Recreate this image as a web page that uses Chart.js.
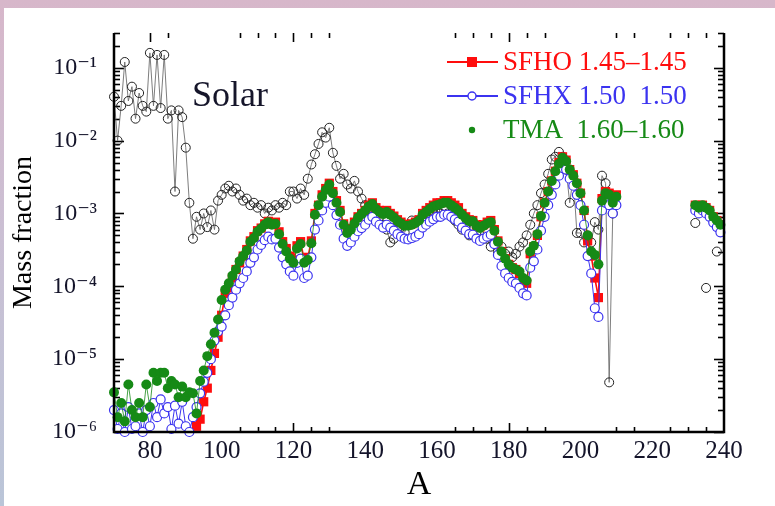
<!DOCTYPE html>
<html><head><meta charset="utf-8">
<script src="https://cdn.jsdelivr.net/npm/chart.js@4.4.0/dist/chart.umd.min.js"></script>
<style>
html,body{margin:0;padding:0;}
body{width:775px;height:506px;position:relative;overflow:hidden;background:linear-gradient(180deg,#d7b7ca 0%,#cbbfd3 45%,#bac5d8 100%);}
#panel{position:absolute;left:4px;top:8px;width:771px;height:498px;background:#fff;}
#wrap{position:absolute;left:0;top:0;width:775px;height:506px;}
</style></head><body>
<div id="panel"></div>
<div id="wrap"><canvas id="c" width="775" height="506"></canvas></div>
<script>
// ---------- data ----------
const A_MODELS = [
 70,71,72,73,74,75,76,77,78,79,
 80,81,82,83,84,85,86,87,88,89,
 90,91,92,93,94,95,96,97,98,99,
 100,101,102,103,104,105,106,107,108,109,
 110,111,112,113,114,115,116,117,118,119,
 120,121,122,123,124,125,126,127,128,129,
 130,131,132,133,134,135,136,137,138,139,
 140,141,142,143,144,145,146,147,148,149,
 150,151,152,153,154,155,156,157,158,159,
 160,161,162,163,164,165,166,167,168,169,
 170,171,172,173,174,175,176,177,178,179,
 180,181,182,183,184,185,186,187,188,189,
 190,191,192,193,194,195,196,197,198,199,
 200,201,202,203,204,205,206,207,208,209,
 210,211,
 232,233,234,235,236,237,238,239
];
const SFHO = [
 null,null,null,null,null,null,null,null,null,null,
 null,null,null,null,null,null,null,null,null,null,
 null,null,null,1.2e-6,1.5e-6,2.6e-6,4e-6,7e-6,1.2e-5,2e-5,
 4e-5,8e-5,9.5e-5,1.3e-4,1.7e-4,2.1e-4,2.6e-4,3.2e-4,4.2e-4,4.8e-4,
 5.8e-4,6.3e-4,7.2e-4,7.8e-4,7.2e-4,7.6e-4,5.6e-4,4.1e-4,3.3e-4,2.6e-4,
 2.3e-4,3.6e-4,4.1e-4,2.3e-4,2.5e-4,4.2e-4,1.0e-3,1.3e-3,1.8e-3,2.2e-3,
 2.6e-3,2.0e-3,1.5e-3,1.1e-3,7.2e-4,5.6e-4,6.2e-4,7.6e-4,9.0e-4,1.0e-3,
 1.1e-3,1.3e-3,1.4e-3,1.2e-3,1.1e-3,1.0e-3,1.1e-3,1.0e-3,9.2e-4,8.2e-4,
 7.6e-4,7.1e-4,7.0e-4,7.2e-4,7.6e-4,8.2e-4,1.0e-3,1.1e-3,1.2e-3,1.3e-3,
 1.4e-3,1.4e-3,1.5e-3,1.5e-3,1.4e-3,1.3e-3,1.2e-3,1.0e-3,9.0e-4,8.2e-4,
 8.0e-4,7.0e-4,6.5e-4,7.0e-4,7.6e-4,8.0e-4,6.0e-4,4.2e-4,3.0e-4,2.4e-4,
 2.0e-4,1.8e-4,1.7e-4,1.5e-4,1.2e-4,1.1e-4,2.8e-4,3.5e-4,5.0e-4,9.0e-4,
 1.4e-3,2.0e-3,2.8e-3,3.8e-3,5.0e-3,6.0e-3,5.4e-3,4.0e-3,3.4e-3,2.6e-3,
 1.9e-3,1.1e-3,4.2e-4,2.6e-4,1.3e-4,7.0e-5,1.6e-3,2.0e-3,1.9e-3,1.4e-3,
 1.8e-3,null,
 1.3e-3,1.2e-3,1.3e-3,1.2e-3,1.1e-3,9e-4,8e-4,7e-4
];
const SFHX = [
 2e-6,1.1e-6,1.8e-6,1.0e-6,2.2e-6,1.1e-6,1.2e-6,1.8e-6,1.0e-6,2.0e-6,
 1.2e-6,2.5e-6,1.6e-6,2.8e-6,1.8e-6,2.2e-6,1.1e-6,2.3e-6,1.3e-6,2.6e-6,
 1.2e-6,1.0e-6,1.6e-6,2.2e-6,3.4e-6,4.9e-6,6.5e-6,1.0e-5,1.8e-5,2.4e-5,
 2.8e-5,4e-5,5.5e-5,7e-5,9e-5,1.1e-4,1.3e-4,1.6e-4,2.1e-4,2.5e-4,
 3.2e-4,3.7e-4,4.3e-4,4.8e-4,4.4e-4,4.5e-4,3.4e-4,2.5e-4,2e-4,1.6e-4,
 1.4e-4,2.1e-4,2.4e-4,1.3e-4,1.4e-4,2.5e-4,6e-4,8e-4,1.1e-3,1.4e-3,
 1.7e-3,1.3e-3,9.5e-4,7e-4,4.5e-4,3.6e-4,4e-4,4.8e-4,5.7e-4,6.3e-4,
 7e-4,8.2e-4,9e-4,7.7e-4,7e-4,6.4e-4,7e-4,6.4e-4,5.8e-4,5.2e-4,
 4.8e-4,4.5e-4,4.4e-4,4.6e-4,4.8e-4,5.2e-4,6.4e-4,7e-4,7.7e-4,8.3e-4,
 9e-4,9e-4,9.6e-4,9.6e-4,9e-4,8.3e-4,7.7e-4,6.4e-4,5.8e-4,5.2e-4,
 5.1e-4,4.5e-4,4.2e-4,4.5e-4,4.8e-4,5.1e-4,3.8e-4,2.7e-4,1.9e-4,1.5e-4,
 1.3e-4,1.15e-4,1.1e-4,9.5e-5,8e-5,7.5e-5,1.8e-4,2.2e-4,3.2e-4,5.8e-4,
 9e-4,1.3e-3,1.8e-3,2.5e-3,3.3e-3,4.2e-3,4e-3,3e-3,2.4e-3,1.8e-3,
 1.3e-3,7e-4,2.6e-4,1.5e-4,5e-5,3.8e-5,1.1e-3,1.4e-3,1.3e-3,1e-3,
 1.3e-3,null,
 1.1e-3,1.0e-3,1.1e-3,1.0e-3,9e-4,7.5e-4,6.5e-4,5.5e-4
];
const TMA = [
 3.5e-6,1.6e-6,2.5e-6,1.4e-6,4.5e-6,2.0e-6,1.6e-6,2.5e-6,1.6e-6,4.5e-6,
 2.2e-6,6.5e-6,5e-6,6.5e-6,6.5e-6,4e-6,5e-6,4.5e-6,3e-6,4.2e-6,
 3e-6,3.5e-6,3.4e-6,1.8e-6,5e-6,7e-6,1.1e-5,1.6e-5,2.3e-5,3.5e-5,
 6.5e-5,9e-5,1.1e-4,1.4e-4,1.7e-4,2.2e-4,2.6e-4,3.1e-4,4.1e-4,4.6e-4,
 5.6e-4,6.2e-4,7e-4,7.6e-4,7e-4,7.2e-4,5.2e-4,3.8e-4,3e-4,2.4e-4,
 2.1e-4,3.3e-4,3.8e-4,2.1e-4,2.3e-4,3.9e-4,9.6e-4,1.3e-3,1.7e-3,2.1e-3,
 2.5e-3,1.9e-3,1.4e-3,1.05e-3,7e-4,5.4e-4,6e-4,7.3e-4,8.7e-4,9.8e-4,
 1.1e-3,1.25e-3,1.35e-3,1.15e-3,1.05e-3,9.8e-4,1.05e-3,9.6e-4,8.8e-4,7.9e-4,
 7.3e-4,6.8e-4,6.8e-4,7e-4,7.4e-4,8e-4,9.6e-4,1.05e-3,1.15e-3,1.25e-3,
 1.3e-3,1.35e-3,1.4e-3,1.4e-3,1.3e-3,1.2e-3,1.1e-3,9.6e-4,8.6e-4,7.8e-4,
 7.8e-4,6.8e-4,6.3e-4,6.8e-4,7.3e-4,7.6e-4,5.8e-4,4.1e-4,3e-4,2.4e-4,
 2e-4,1.8e-4,1.7e-4,1.6e-4,1.3e-4,1.2e-4,3e-4,3.6e-4,5.2e-4,9.2e-4,
 1.4e-3,2e-3,2.8e-3,3.8e-3,4.8e-3,5.8e-3,5.2e-3,4e-3,3.3e-3,2.6e-3,
 1.9e-3,1.1e-3,5e-4,3e-4,2.7e-4,2e-4,1.5e-3,1.9e-3,1.8e-3,1.4e-3,
 1.7e-3,null,
 1.3e-3,1.2e-3,1.3e-3,1.2e-3,1.1e-3,9e-4,8e-4,7e-4
];
const A_SOLAR = [
 70,71,72,73,74,75,76,77,78,79,
 80,81,82,83,84,85,86,87,88,89,
 90,91,92,93,94,95,96,97,98,99,
 100,101,102,103,104,105,106,107,108,109,
 110,111,112,113,114,115,116,117,118,119,
 120,121,122,123,124,125,126,127,128,129,
 130,131,132,133,134,135,136,137,138,139,
 140,141,142,143,144,145,146,147,148,149,
 150,151,152,153,154,155,156,157,158,159,
 160,161,162,163,164,165,166,167,168,169,
 170,171,172,173,174,175,176,177,178,179,
 180,181,182,183,184,185,186,187,188,189,
 190,191,192,193,194,195,196,197,198,199,
 200,201,202,203,204,205,206,207,208,209,
 210,232,233,235,236,238
];
const SOLAR = [
 0.04,0.01,0.03,0.12,0.035,0.055,0.02,0.045,0.03,0.025,
 0.16,0.03,0.15,0.028,0.15,0.02,0.026,0.002,0.026,0.021,
 0.008,0.0014,0.00045,0.0009,0.0006,0.001,0.00065,0.0011,0.0006,0.0015,
 1.8e-3,2.2e-3,2.4e-3,2.0e-3,2.2e-3,1.8e-3,1.5e-3,1.6e-3,1.3e-3,1.4e-3,
 1.2e-3,1.3e-3,1.0e-3,1.2e-3,1.1e-3,1.3e-3,1.2e-3,1.4e-3,1.3e-3,2.0e-3,
 2.0e-3,1.6e-3,2.2e-3,1.8e-3,3.0e-3,4.7e-3,6.5e-3,9e-3,1.3e-2,1.1e-2,
 1.5e-2,6.8e-3,4.5e-3,3.0e-3,3.5e-3,2.5e-3,2.2e-3,2.8e-3,2.0e-3,1.6e-3,
 1.3e-3,1.1e-3,1.2e-3,1.0e-3,9e-4,7e-4,6e-4,4e-4,4.5e-4,6e-4,
 6.5e-4,5.5e-4,7e-4,8e-4,7.5e-4,8e-4,9e-4,1e-3,1.1e-3,1e-3,
 1.1e-3,1e-3,1.1e-3,1e-3,9e-4,8e-4,7e-4,6e-4,6.5e-4,5e-4,
 6e-4,5.5e-4,5e-4,4.5e-4,4.5e-4,3.5e-4,4e-4,3e-4,3.5e-4,2.8e-4,
 3e-4,2.5e-4,2.8e-4,3.5e-4,4e-4,5e-4,7e-4,1e-3,1.3e-3,1.9e-3,
 2.5e-3,3.5e-3,5.5e-3,6e-3,7e-3,6e-3,4e-3,1.4e-3,3.2e-3,5.4e-4,
 5.4e-4,4e-4,5e-4,4e-4,7.6e-4,6e-4,3.3e-3,2.6e-3,4.8e-6,1e-3,
 null,7.4e-4,null,9.5e-5,null,3e-4
];
const X_TICK_VALUES = [80,100,120,140,160,180,200,220,240];
const X_TICK_MARKS = [80,85,105,110,115,120,125,130,165,170,175,180,185,190,210,215,225,230,235];
const Y_TICK_VALUES = [1e-6,1e-5,1e-4,1e-3,1e-2,1e-1];
const Y_TICK_LABELS = ['10\u207B\u2076','10\u207B\u2075','10\u207B\u2074','10\u207B\u00B3','10\u207B\u00B2','10\u207B\u00B9'];
const LEGEND_LABELS = ['SFHO 1.45\u20131.45','SFHX 1.50  1.50','TMA  1.60\u20131.60'];
const ANNOTATION = 'Solar';

// ---------- chart ----------
const SERIF = "'Liberation Serif','Times New Roman','DejaVu Serif',serif";
const COL = {red:'#ff0d0d', blue:'#3b33f0', green:'#168a16', black:'#1a1a1a'};
const pts = (xs, ys) => xs.map((a,i)=>({x:a, y:ys[i]}));
const clipAll = {left:10,right:10,top:10,bottom:10};

const decoPlugin = {
  id:'deco',
  beforeDatasetsDraw(chart){
    const {ctx, chartArea:{left,right,top,bottom}, scales:{x,y}} = chart;
    ctx.save();
    ctx.strokeStyle = '#000'; ctx.lineWidth = 1.6;
    const seg=(x1,y1,x2,y2)=>{ctx.beginPath();ctx.moveTo(x1,y1);ctx.lineTo(x2,y2);ctx.stroke();};
    for (let e=-6;e<=-1;e++){
      for (let m=1;m<=9;m++){
        const v = m*Math.pow(10,e);
        if (v < y.min*0.999 || v > y.max*1.001) continue;
        const py = Math.round(y.getPixelForValue(v))+0.5;
        const len = m===1?10:6;
        seg(left,py,left+len,py); seg(right,py,right-len,py);
      }
    }
    X_TICK_MARKS.forEach(a=>{
      const px = Math.round(x.getPixelForValue(a))+0.5;
      const len = a%20===0?9:5;
      seg(px,bottom,px,bottom-len); seg(px,top,px,top+len);
    });
    ctx.restore();
  },
  afterDatasetsDraw(chart){
    const {ctx, chartArea:{left,right,top,bottom}} = chart;
    ctx.save();
    ctx.strokeStyle='#000'; ctx.lineWidth=2.5;
    ctx.beginPath(); ctx.moveTo(left,top); ctx.lineTo(left,bottom); ctx.lineTo(right,bottom); ctx.lineTo(right,top); ctx.stroke();
    ctx.restore();
  },
  afterDraw(chart){
    const {ctx} = chart;
    ctx.save();
    ctx.font = "36px "+SERIF; ctx.fillStyle = '#15152a'; ctx.textBaseline='alphabetic'; ctx.textAlign='left';
    ctx.fillText(ANNOTATION, 192, 106);
    const rows = [62, 96, 130];
    const x0 = 447, x1 = 498, xm = 472, tx = 503;
    ctx.font = "27px "+SERIF; ctx.textBaseline='middle';
    ctx.strokeStyle = COL.red; ctx.lineWidth = 2;
    ctx.beginPath(); ctx.moveTo(x0,rows[0]); ctx.lineTo(x1,rows[0]); ctx.stroke();
    ctx.fillStyle = COL.red; ctx.fillRect(xm-5,rows[0]-5,10,10);
    ctx.fillText(LEGEND_LABELS[0], tx, rows[0]+1);
    ctx.strokeStyle = COL.blue; ctx.lineWidth = 1.8;
    ctx.beginPath(); ctx.moveTo(x0,rows[1]); ctx.lineTo(x1,rows[1]); ctx.stroke();
    ctx.fillStyle='#fff'; ctx.lineWidth=1.4; ctx.beginPath(); ctx.arc(xm,rows[1],4,0,Math.PI*2); ctx.fill(); ctx.stroke();
    ctx.fillStyle = COL.blue; ctx.fillText(LEGEND_LABELS[1], tx, rows[1]+1);
    ctx.fillStyle = COL.green; ctx.beginPath(); ctx.arc(xm,rows[2],3.2,0,Math.PI*2); ctx.fill();
    ctx.fillText(LEGEND_LABELS[2], tx, rows[2]+1);
    ctx.restore();
  }
};

new Chart(document.getElementById('c'), {
  type:'scatter',
  data:{ datasets:[
    { label:'Solar', data:pts(A_SOLAR,SOLAR), showLine:true, order:4, clip:clipAll,
      borderColor:'#6e6e6e', borderWidth:0.9, pointStyle:'circle', pointRadius:4.5,
      pointBackgroundColor:'rgba(255,255,255,0)', pointBorderColor:'#222', pointBorderWidth:1 },
    { label:LEGEND_LABELS[0], data:pts(A_MODELS,SFHO), showLine:true, order:3, clip:clipAll,
      borderColor:COL.red, borderWidth:1.6, pointStyle:'rect', pointRadius:6.5,
      pointBackgroundColor:COL.red, pointBorderColor:COL.red, pointBorderWidth:0 },
    { label:LEGEND_LABELS[1], data:pts(A_MODELS,SFHX), showLine:true, order:2, clip:clipAll,
      borderColor:COL.blue, borderWidth:1, pointStyle:'circle', pointRadius:4.5,
      pointBackgroundColor:'#ffffff', pointBorderColor:COL.blue, pointBorderWidth:1.2 },
    { label:LEGEND_LABELS[2], data:pts(A_MODELS,TMA), showLine:true, order:1, clip:clipAll,
      borderColor:COL.green, borderWidth:0.8, pointStyle:'circle', pointRadius:5,
      pointBackgroundColor:COL.green, pointBorderColor:COL.green, pointBorderWidth:0 }
  ]},
  options:{
    responsive:false, animation:false, devicePixelRatio:1,
    layout:{ padding:{ left:0, top:33, right:51, bottom:0 } },
    plugins:{ legend:{display:false}, tooltip:{enabled:false} },
    scales:{
      x:{ type:'linear', min:70, max:240, position:'bottom',
          grid:{display:false, drawTicks:false}, border:{display:false},
          afterBuildTicks:s=>{ s.ticks = X_TICK_VALUES.map(v=>({value:v})); },
          ticks:{ font:{family:SERIF,size:25}, color:'#14142a', padding:4, maxRotation:0, autoSkip:false,
                  callback:(v)=>String(v) },
          title:{ display:true, text:'A', font:{family:SERIF,size:34}, color:'#000', padding:{top:0,bottom:1} },
          afterFit:s=>{ s.height = 74; } },
      y:{ type:'logarithmic', min:1e-6, max:0.3, position:'left',
          grid:{display:false, drawTicks:false}, border:{display:false},
          afterBuildTicks:s=>{ s.ticks = Y_TICK_VALUES.map(v=>({value:v, major:true})); },
          ticks:{ font:{family:SERIF,size:24}, color:'#14142a', padding:17, autoSkip:false,
                  callback:(v,i)=>Y_TICK_LABELS[i] },
          title:{ display:true, text:'Mass fraction', font:{family:SERIF,size:28}, color:'#000', padding:{top:7,bottom:0} },
          afterFit:s=>{ s.width = 114; } }
    }
  },
  plugins:[decoPlugin]
});
</script>
</body></html>
